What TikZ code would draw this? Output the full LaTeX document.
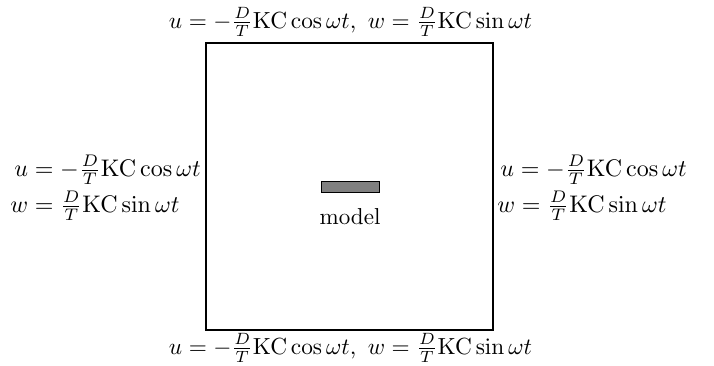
\documentclass[tikz,border=0pt]{standalone}
\begin{document}
\begin{tikzpicture}[x=1pt,y=-1pt,
  lbl/.style={inner sep=0pt,scale=2.4},
  edgelbl/.style={inner sep=0pt,scale=2.33}]
\useasboundingbox (0,0) rectangle (714,365);
\node[draw,line width=1.6pt,minimum width=287pt,minimum height=287pt,inner sep=0pt] (domain) at (349.5,186.5) {};
\node[draw,line width=0.6pt,fill=gray,minimum width=58pt,minimum height=11pt,inner sep=0pt] (model) at (350,186.5) {};
\node[lbl,anchor=base,scale=0.96] (mlabel) at (350,224) {model};
\node[edgelbl,anchor=base] (top) at (350.5,28) {$u=-\frac{D}{T}\mathrm{KC}\cos\omega t,\,\, w=\frac{D}{T}\mathrm{KC}\sin\omega t$};
\node[edgelbl,anchor=base] (bottom) at (350.5,354) {$u=-\frac{D}{T}\mathrm{KC}\cos\omega t,\,\, w=\frac{D}{T}\mathrm{KC}\sin\omega t$};
\node[lbl,anchor=base west] (l1) at (14,176) {$u=-\frac{D}{T}\mathrm{KC}\cos\omega t$};
\node[lbl,anchor=base west] (l2) at (10,212) {$w=\frac{D}{T}\mathrm{KC}\sin\omega t$};
\node[lbl,anchor=base west] (r1) at (500,176) {$u=-\frac{D}{T}\mathrm{KC}\cos\omega t$};
\node[lbl,anchor=base west] (r2) at (497,212) {$w=\frac{D}{T}\mathrm{KC}\sin\omega t$};
\end{tikzpicture}
\end{document}
